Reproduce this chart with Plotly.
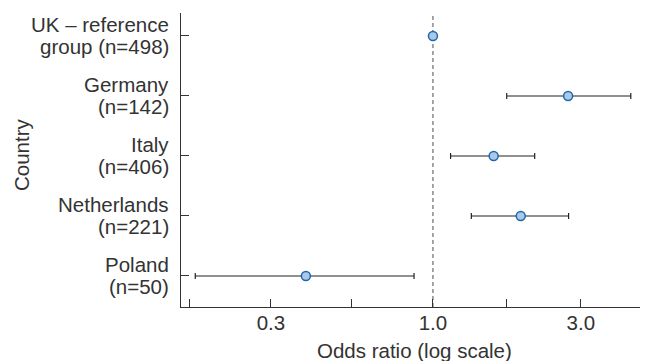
import plotly.graph_objects as go

label_line1 = ["UK – reference", "Germany", "Italy", "Netherlands", "Poland"]
label_line2 = ["group (n=498)", "(n=142)", "(n=406)", "(n=221)", "(n=50)"]
odds_ratio = [1.0, 2.73, 1.57, 1.92, 0.389]
ci_low = [1.0, 1.73, 1.14, 1.33, 0.171]
ci_high = [1.0, 4.35, 2.13, 2.74, 0.869]
x_tickvals = [0.164, 0.3, 0.548, 1.0, 1.732, 3.0]
x_ticktext = ["", "0.3", "", "1.0", "", "3.0"]

n = len(label_line1)
ypos = list(range(n - 1, -1, -1))

fig = go.Figure()
fig.add_trace(go.Scatter(
    x=odds_ratio, y=ypos, mode="markers",
    marker=dict(size=9, color="#a9c9e8", line=dict(color="#2166ac", width=1.5)),
    error_x=dict(type="data", symmetric=False,
                 array=[h - v for h, v in zip(ci_high, odds_ratio)],
                 arrayminus=[v - l for v, l in zip(odds_ratio, ci_low)],
                 color="#222222", thickness=1.2, width=3),
    showlegend=False,
))

fig.add_shape(type="line", x0=1, x1=1, xref="x", y0=0, y1=1, yref="paper",
              line=dict(color="#888888", width=1.5, dash="4px,3px"), layer="below")

font = dict(family="Liberation Sans, Arial, sans-serif", size=20.5, color="#333333")

for y, l1, l2 in zip(ypos, label_line1, label_line2):
    for txt, sh in ((l1, 11), (l2, -11)):
        fig.add_annotation(text=txt, x=0, xref="paper", y=y, yref="y",
                           xanchor="right", yanchor="middle", xshift=-10, yshift=sh,
                           showarrow=False, font=font)

fig.add_annotation(text="Odds ratio (log scale)", x=0.5, xref="paper", y=0, yref="paper",
                   xanchor="center", yanchor="top", yshift=-30, showarrow=False, font=font)
fig.add_annotation(text="Country", x=0, xref="paper", y=0.5, yref="paper",
                   xanchor="center", yanchor="middle", xshift=-160, yshift=5,
                   textangle=-90, showarrow=False, font=font)

# page body has an 8px margin; figure sized to the visible area
fig.update_layout(
    width=640, height=353,
    margin=dict(l=173, r=0, t=5, b=54),
    plot_bgcolor="white", paper_bgcolor="white",
    font=font,
    xaxis=dict(type="log", range=[-0.813, 0.694], tickvals=x_tickvals, ticktext=x_ticktext,
               ticks="inside", ticklen=8, tickcolor="#333333", showline=True,
               linecolor="#333333", linewidth=1.3, showgrid=False, zeroline=False,
               automargin=False, ticklabelstandoff=-3),
    yaxis=dict(range=[-0.517, 4.383], tickvals=ypos, showticklabels=False,
               ticks="inside", ticklen=8, tickcolor="#333333", showline=True,
               linecolor="#333333", linewidth=1.3, showgrid=False, zeroline=False,
               automargin=False),
)

fig.write_html("out.html")
